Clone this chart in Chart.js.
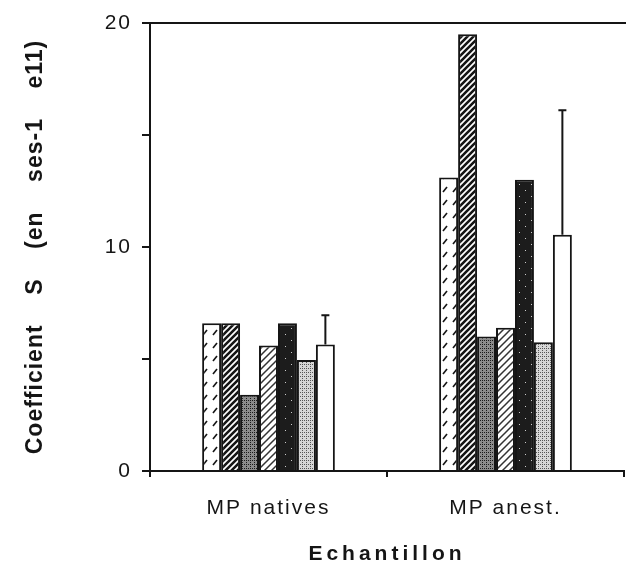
<!DOCTYPE html>
<html>
<head>
<meta charset="utf-8">
<title>Coefficient S</title>
<script src="https://cdn.jsdelivr.net/npm/chart.js@4"></script>
<style>
  html, body { margin: 0; padding: 0; background: #fff; }
  canvas { display: block; }
</style>
</head>
<body>
<canvas id="chart" width="626" height="568"></canvas>
<script>
// values
const categories = ["MP natives", "MP anest."];
const serie1 = [6.6, 13.1];
const serie2 = [6.6, 19.5];
const serie3 = [3.4, 6.0];
const serie4 = [5.6, 6.4];
const serie5 = [6.6, 13.0];
const serie6 = [4.95, 5.75];
const serie7 = [5.65, 10.55];
const erreur7 = [1.3, 5.55]; // upper error bar, only on the last series

const yTicks = [0, 10, 20];
const yTitle = "Coefficient    S    (en    ses-1    e11)";
const xTitle = "Echantillon";

const ink = "#151515";

function tile(w, h, paint) {
  const c = document.createElement("canvas");
  c.width = w;
  c.height = h;
  const g = c.getContext("2d");
  paint(g, w, h);
  return g.createPattern(c, "repeat");
}

function hatch(size, width, color) {
  return tile(size, size, (g, w, h) => {
    g.fillStyle = "#fff";
    g.fillRect(0, 0, w, h);
    g.strokeStyle = color;
    g.lineWidth = width;
    g.beginPath();
    g.moveTo(-1, h + 1); g.lineTo(w + 1, -1);
    g.moveTo(-1, 1); g.lineTo(1, -1);
    g.moveTo(w - 1, h + 1); g.lineTo(w + 1, h - 1);
    g.stroke();
  });
}

function stipple(base, dots, step) {
  return tile(step * 2, step * 2, (g, w, h) => {
    g.fillStyle = base;
    g.fillRect(0, 0, w, h);
    g.fillStyle = dots;
    g.fillRect(0, 0, 1, 1);
    g.fillRect(step, step, 1, 1);
    g.fillRect(step, 0, 1, 1);
  });
}

const fills = [
  // white with broken slanted dashes
  tile(10, 13, (g, w, h) => {
    g.fillStyle = "#fff";
    g.fillRect(0, 0, w, h);
    g.strokeStyle = ink;
    g.lineWidth = 1.6;
    g.beginPath();
    g.moveTo(3, 10); g.lineTo(7, 5);
    g.stroke();
  }),
  hatch(6, 2.6, ink),
  stipple("#8c8c8c", "#1a1a1a", 2),
  hatch(7, 1.5, "#333"),
  tile(12, 12, (g, w, h) => {
    g.fillStyle = "#1c1c1c";
    g.fillRect(0, 0, w, h);
    g.fillStyle = "#ccc";
    g.fillRect(3, 4, 1, 1);
    g.fillRect(9, 10, 1, 1);
  }),
  stipple("#d6d6d6", "#555", 2),
  "#fff"
];

const series = [serie1, serie2, serie3, serie4, serie5, serie6, serie7];

const errorBars = {
  id: "errorBars",
  afterDatasetsDraw(chart) {
    const { ctx, scales: { y } } = chart;
    const meta = chart.getDatasetMeta(6);
    ctx.save();
    ctx.strokeStyle = ink;
    ctx.lineWidth = 2;
    meta.data.forEach((bar, i) => {
      const top = y.getPixelForValue(serie7[i] + erreur7[i]);
      ctx.beginPath();
      ctx.moveTo(bar.x, bar.y);
      ctx.lineTo(bar.x, top);
      ctx.moveTo(bar.x - 4, top);
      ctx.lineTo(bar.x + 4, top);
      ctx.stroke();
    });
    ctx.restore();
  }
};

// top edge of the frame
const frame = {
  id: "frame",
  afterDraw(chart) {
    const { ctx, chartArea } = chart;
    ctx.save();
    ctx.strokeStyle = ink;
    ctx.lineWidth = 2;
    ctx.beginPath();
    ctx.moveTo(chartArea.left - 1, chartArea.top);
    ctx.lineTo(chart.width, chartArea.top);
    ctx.stroke();
    ctx.restore();
  }
};

// the scan uses loosely spaced lettering
function spaced(scale, fn, spacing) {
  const orig = scale[fn];
  scale[fn] = function () {
    this.ctx.save();
    this.ctx.letterSpacing = spacing;
    orig.apply(this, arguments);
    this.ctx.restore();
  };
}

const spacing = {
  id: "spacing",
  beforeDraw(chart) {
    if (chart.$spaced) return;
    chart.$spaced = true;
    spaced(chart.scales.x, "drawLabels", "2px");
    spaced(chart.scales.x, "drawTitle", "4px");
    spaced(chart.scales.y, "drawLabels", "2px");
    spaced(chart.scales.y, "drawTitle", "1px");
  }
};

Chart.defaults.font.family = "'Liberation Sans', Arial, Helvetica, sans-serif";
Chart.defaults.color = ink;

new Chart(document.getElementById("chart"), {
  type: "bar",
  data: {
    labels: categories,
    datasets: series.map((values, i) => ({
      label: "Série " + (i + 1),
      data: values,
      backgroundColor: fills[i],
      borderColor: ink,
      borderWidth: 2,
      categoryPercentage: 0.56,
      barPercentage: 1
    }))
  },
  options: {
    responsive: false,
    animation: false,
    layout: { padding: { top: 23, right: 2, left: 0, bottom: 0 } },
    plugins: {
      legend: { display: false },
      tooltip: { enabled: false }
    },
    scales: {
      x: {
        afterFit: (s) => { s.height = 97; },
        border: { color: ink, width: 2 },
        grid: { drawOnChartArea: false, color: ink, lineWidth: 2, tickLength: 6, offset: true },
        ticks: { padding: 19, font: { size: 21 } },
        title: { display: true, text: xTitle, font: { size: 21, weight: "bold" }, padding: { top: 0, bottom: 1 } }
      },
      y: {
        min: 0,
        max: 20,
        afterFit: (s) => { s.width = 150; },
        border: { color: ink, width: 2 },
        grid: { drawOnChartArea: false, color: ink, lineWidth: 2, tickLength: 8 },
        ticks: {
          stepSize: 5,
          padding: 10,
          font: { size: 21 },
          callback: (v) => (yTicks.includes(v) ? v : "")
        },
        title: { display: true, text: yTitle, font: { size: 23, weight: "bold" }, padding: { top: 22, bottom: 0 } }
      }
    }
  },
  plugins: [errorBars, frame, spacing]
});
</script>
</body>
</html>
